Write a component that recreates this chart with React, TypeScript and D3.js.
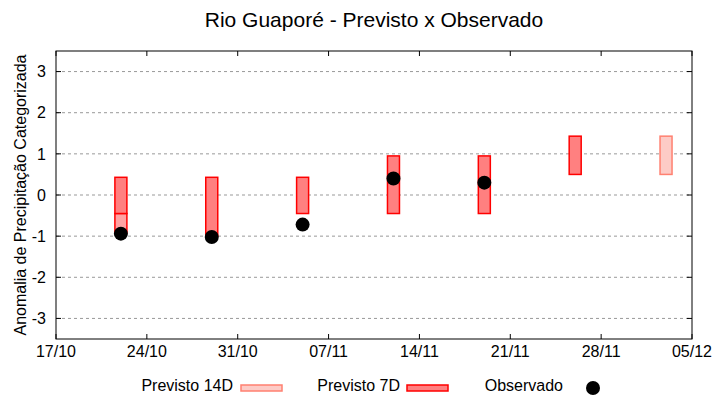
import React from "react";
import * as d3 from "d3";

const title = "Rio Guaporé - Previsto x Observado";
const yLabel = "Anomalia de Precipitação Categorizada";

// 7-day forecast boxes
const dates7D = ["2023-10-22", "2023-10-29", "2023-11-05", "2023-11-12", "2023-11-19", "2023-11-26"];
const hi7D = [0.43, 0.43, 0.43, 0.95, 0.95, 1.43];
const lo7D = [-0.45, -1.0, -0.45, -0.45, -0.45, 0.5];
// lighter lower extension of the first 7-day box
const ext7DDates = ["2023-10-22"];
const ext7DLo = [-0.92];
const ext7DHi = [-0.45];

// 14-day forecast boxes
const dates14D = ["2023-12-03"];
const hi14D = [1.43];
const lo14D = [0.5];

// observed
const datesObs = ["2023-10-22", "2023-10-29", "2023-11-05", "2023-11-12", "2023-11-19"];
const valuesObs = [-0.94, -1.02, -0.72, 0.4, 0.3];

const yTicks = [-3, -2, -1, 0, 1, 2, 3];
const xStart = "2023-10-17";
const xEnd = "2023-12-05";

const W = 720, H = 400;
const L = 56, R = 692, T = 51, B = 339;

const parse = d3.timeParse("%Y-%m-%d");
const fmt = d3.timeFormat("%d/%m");

export default function App() {
  const x = d3.scaleTime().domain([parse(xStart)!, parse(xEnd)!]).range([L, R]);
  const y = d3.scaleLinear().domain([-3.5, 3.5]).range([B, T]);
  const xTicks = d3.timeDay.range(parse(xStart)!, d3.timeDay.offset(parse(xEnd)!, 1), 7);
  const barW = 12;
  const narrow = "'Liberation Sans Narrow', 'Liberation Sans', Arial, sans-serif";
  const sans = "'Liberation Sans', Arial, sans-serif";

  return (
    <svg width={W} height={H} style={{ position: "absolute", left: 0, top: 0, background: "#fff" }}>
      <rect x={0} y={0} width={W} height={H} fill="#fff" />
      {/* grid */}
      {yTicks.map((t) => (
        <line key={"g" + t} x1={L} x2={R} y1={y(t)} y2={y(t)} stroke="#999" strokeWidth={1} strokeDasharray="3,3" />
      ))}
      {/* y ticks */}
      {yTicks.map((t) => (
        <g key={"yt" + t}>
          <line x1={L} x2={L + 5} y1={y(t)} y2={y(t)} stroke="#000" />
          <line x1={R - 5} x2={R} y1={y(t)} y2={y(t)} stroke="#000" />
          <text x={46} y={y(t)} dy="0.36em" textAnchor="end" fontFamily={narrow} fontSize={16} fill="#000">
            {t}
          </text>
        </g>
      ))}
      {/* x ticks */}
      {xTicks.map((d, i) => (
        <g key={"xt" + i}>
          <line x1={x(d)} x2={x(d)} y1={B} y2={B - 5} stroke="#000" />
          <line x1={x(d)} x2={x(d)} y1={T} y2={T + 5} stroke="#000" />
          <text x={x(d)} y={357} textAnchor="middle" fontFamily={narrow} fontSize={16} fill="#000">
            {fmt(d)}
          </text>
        </g>
      ))}
      {/* 14D boxes */}
      {dates14D.map((d, i) => (
        <rect key={"b14" + i} x={x(parse(d)!) - barW / 2} width={barW} y={y(hi14D[i])} height={y(lo14D[i]) - y(hi14D[i])}
          fill="#fdcbc6" stroke="#ff8070" strokeWidth={1.5} />
      ))}
      {/* 7D extension */}
      {ext7DDates.map((d, i) => (
        <rect key={"e7" + i} x={x(parse(d)!) - barW / 2} width={barW} y={y(ext7DHi[i])} height={y(ext7DLo[i]) - y(ext7DHi[i])}
          fill="#ffa3a3" stroke="#ff0000" strokeWidth={1.5} />
      ))}
      {/* 7D boxes */}
      {dates7D.map((d, i) => (
        <rect key={"b7" + i} x={x(parse(d)!) - barW / 2} width={barW} y={y(hi7D[i])} height={y(lo7D[i]) - y(hi7D[i])}
          fill="#ff8080" stroke="#ff0000" strokeWidth={1.5} />
      ))}
      {/* observed */}
      {datesObs.map((d, i) => (
        <circle key={"o" + i} cx={x(parse(d)!)} cy={y(valuesObs[i])} r={7} fill="#000" />
      ))}
      {/* frame */}
      <rect x={L} y={T} width={R - L} height={B - T} fill="none" stroke="#000" strokeWidth={1} />
      {/* title */}
      <text x={(L + R) / 2} y={27} textAnchor="middle" fontFamily={sans} fontSize={21} fill="#000">
        {title}
      </text>
      {/* y label */}
      <text transform={`translate(26,${(T + B) / 2}) rotate(-90)`} textAnchor="middle" fontFamily={sans} fontSize={16} fill="#000">
        {yLabel}
      </text>
      {/* legend */}
      <text x={233} y={391} textAnchor="end" fontFamily={sans} fontSize={16} fill="#000">Previsto 14D</text>
      <rect x={241} y={385} width={41} height={6} fill="#fdcbc6" stroke="#ff8070" strokeWidth={1.5} />
      <text x={400} y={391} textAnchor="end" fontFamily={sans} fontSize={16} fill="#000">Previsto 7D</text>
      <rect x={407} y={385} width={41} height={6} fill="#ff8080" stroke="#ff0000" strokeWidth={1.5} />
      <text x={563} y={391} textAnchor="end" fontFamily={sans} fontSize={16} fill="#000">Observado</text>
      <circle cx={593} cy={388} r={7} fill="#000" />
    </svg>
  );
}
